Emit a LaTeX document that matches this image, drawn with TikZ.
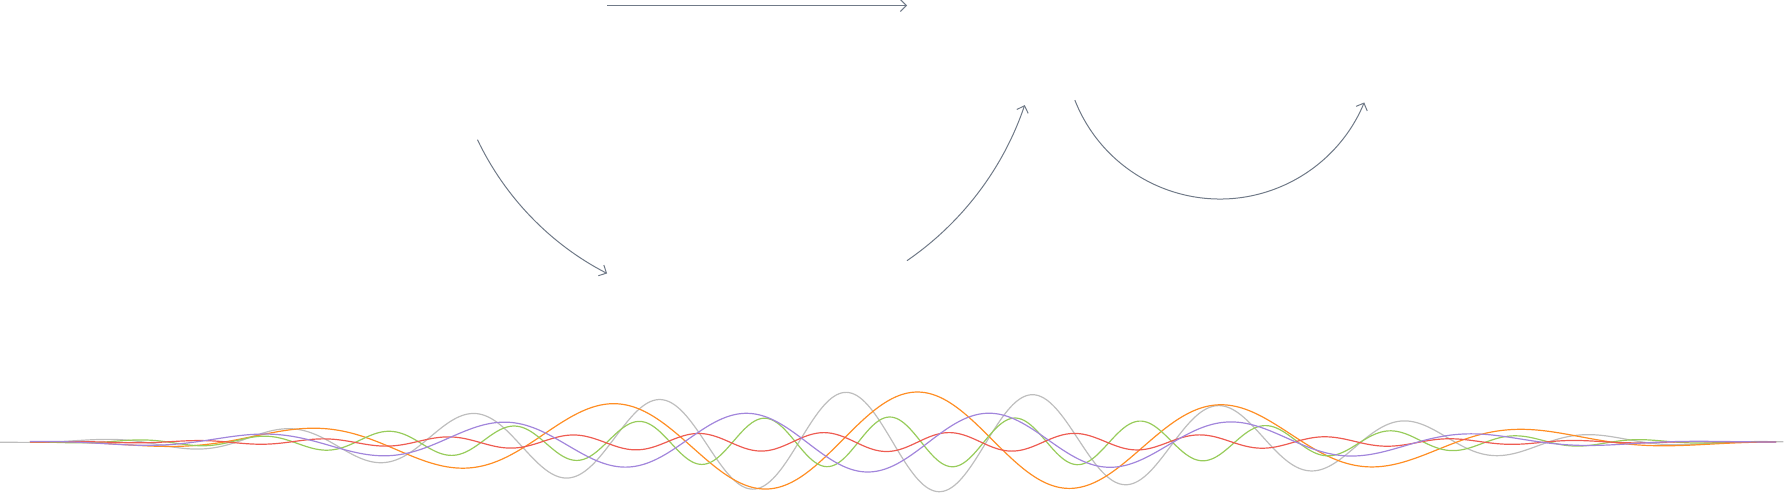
\documentclass[tikz,border=0pt]{standalone}
\usetikzlibrary{arrows.meta}
\definecolor{arrowgray}{RGB}{112,122,136}
\definecolor{wgray}{RGB}{190,190,190}
\definecolor{worange}{RGB}{255,142,36}
\definecolor{wgreen}{RGB}{152,204,92}
\definecolor{wred}{RGB}{238,92,82}
\definecolor{wpurple}{RGB}{162,134,220}
\tikzset{
  arr/.style={draw=arrowgray, line width=0.5pt, -{Straight Barb[length=3pt,width=6pt]}},
  wave/.style={line width=0.6pt, samples=700},
}
\begin{document}
\begin{tikzpicture}[x=50pt,y=50pt]
\useasboundingbox (0,0) rectangle (17.84,-4.93);
% arrows
\coordinate (t1) at (6.07,-0.055);
\coordinate (t2) at (9.07,-0.055);
\draw[arr] (t1) -- (t2);
\path (7.41,-0.14) ++(205.5:2.92) coordinate (c1s);
\draw[arr] (c1s) arc[start angle=205.5, end angle=242.7, radius=2.92];
\path (7.32,-0.06) ++(-55.5:3.09) coordinate (c2s);
\draw[arr] (c2s) arc[start angle=-55.5, end angle=-18.7, radius=3.09];
\path (12.20,-0.43) ++(201.5:1.56) coordinate (c3s);
\draw[arr] (c3s) arc[start angle=201.5, end angle=337.6, radius=1.56];
% waves
\draw[wave, wgray, domain=0:17.84] plot (\x, {-4.42 + 0.50*(cos(90*(\x-8.95)/9.3))^2*cos(360*(\x-4.71)/1.874)});
\draw[wave, worange, domain=0.3:17.77] plot (\x, {-4.42 + 0.50*(cos(90*(\x-9.1)/9.3))^2*cos(360*(\x-3.01)/3.0825)});
\draw[wave, wgreen, domain=0.3:17.77] plot (\x, {-4.42 + 0.25*(cos(90*(\x-8.95)/9.3))^2*cos(360*(\x-3.875)/1.2556)});
\draw[wave, wred, domain=0.3:17.77] plot (\x, {-4.42 + 0.095*(cos(90*(\x-8.9)/9.3))^2*cos(360*(\x-3.215)/1.2556)});
\draw[wave, wpurple, domain=0.3:17.77] plot (\x, {-4.42 + 0.30*(cos(90*(\x-8.7)/9.3))^2*cos(360*(\x-9.90)/2.446)});
\end{tikzpicture}
\end{document}
